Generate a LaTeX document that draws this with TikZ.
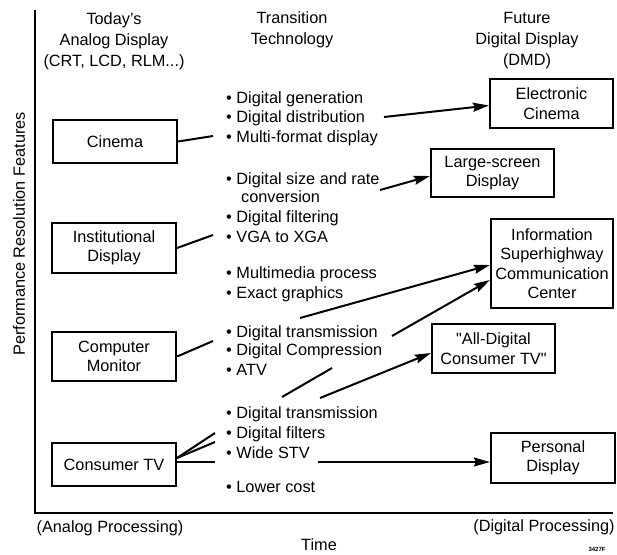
\documentclass[tikz,border=0pt]{standalone}
\usepackage{fontspec}
\setmainfont{Liberation Sans}
\usetikzlibrary{arrows.meta,calc}
\begin{document}
\begin{tikzpicture}[x=1pt,y=-1pt,
  every node/.style={font=\fontsize{16.3}{19.5}\selectfont, inner sep=0pt},
  box/.style={draw, line width=2.2pt, align=center, minimum width=124pt},
  head/.style={align=center, font=\fontsize{16.3}{21}\selectfont},
  item/.style={anchor=base west},
  link/.style={line width=2pt},
  arr/.style={line width=2pt, -{Stealth[length=16pt,width=9pt,inset=2pt]}}]
\useasboundingbox (0,0) rectangle (617,554);

% axes
\coordinate (ytop) at (35,10);
\coordinate (orig) at (35,513);
\coordinate (xend) at (613,513);
\draw[line width=2.5pt] (ytop) -- (orig) -- (xend);

% column headings
\node[head] (h1) at (114,41) {Today's\\Analog Display\\(CRT, LCD, RLM...)};
\node[head] (h2) at (292,30) {Transition\\Technology};
\node[head] (h3) at (527,41) {Future\\Digital Display\\(DMD)};

% today's displays
\node[box, minimum height=43pt] (cin)  at (115,141.5) {Cinema};
\node[box, minimum height=50pt] (inst) at (114,248)   {Institutional\\Display};
\node[box, minimum height=49pt] (comp) at (114,356.5) {Computer\\Monitor};
\node[box, minimum height=43pt] (ctv)  at (114,464.5) {Consumer TV};

% future displays
\node[box, minimum width=123pt, minimum height=49pt] (ecin) at (551.5,103.5) {Electronic\\Cinema};
\node[box, minimum width=123pt, minimum height=48pt] (lsd)  at (492.5,173)   {Large-screen\\Display};
\node[box, minimum width=122pt, minimum height=89pt] (info) at (552,263.5)   {Information\\Superhighway\\Communication\\Center};
\node[box, minimum width=123pt, minimum height=49pt] (adtv) at (493.5,348.5) {\textquotedbl All-Digital\\Consumer TV\textquotedbl};
\node[box, minimum width=124pt, minimum height=50pt] (pers) at (553,458)     {Personal\\Display};

% transition technologies
\node[item] (gen)  at (226,103) {\textbullet\ Digital generation};
\node[item] (dist) at (226,122) {\textbullet\ Digital distribution};
\node[item] (mf)   at (226,142) {\textbullet\ Multi-format display};
\node[item] (size) at (226,184) {\textbullet\ Digital size and rate};
\node[item] (conv) at (241,202) {conversion};
\node[item] (filt) at (226,222) {\textbullet\ Digital filtering};
\node[item] (vga)  at (226,242) {\textbullet\ VGA to XGA};
\node[item] (mm)   at (226,278) {\textbullet\ Multimedia process};
\node[item] (eg)   at (226,298) {\textbullet\ Exact graphics};
\node[item] (dt1)  at (226,337) {\textbullet\ Digital transmission};
\node[item] (dc)   at (226,355) {\textbullet\ Digital Compression};
\node[item] (atv)  at (226,375) {\textbullet\ ATV};
\node[item] (dt2)  at (226,418) {\textbullet\ Digital transmission};
\node[item] (df)   at (226,438) {\textbullet\ Digital filters};
\node[item] (wstv) at (226,458) {\textbullet\ Wide STV};
\node[item] (lc)   at (226,492) {\textbullet\ Lower cost};

% connector end points
\coordinate (cinT)  at (213,136);
\coordinate (instT) at (213,235);
\coordinate (compT) at (213,341);
\coordinate (ctvE)  at (177,458);
\coordinate (ctvA)  at (215,433);
\coordinate (ctvB)  at (215,442);
\coordinate (ctvC)  at (215,462);
\coordinate (a1) at (384,117);
\coordinate (a2) at (380,190);
\coordinate (a3) at (300,318);
\coordinate (a4) at (392,336);
\coordinate (s1) at (282,397);
\coordinate (s2) at (332,368);
\coordinate (a5) at (320,398);
\coordinate (a6) at (318,462);

% connectors
\draw[link] (cin.east) -- (cinT);
\draw[link] (inst.east) -- (instT);
\draw[link] (comp.east) -- (compT);
\draw[link] (ctvE) -- (ctvA);
\draw[link] (ctvE) -- (ctvB);
\draw[link] (ctv.east |- ctvC) -- (ctvC);
\draw[arr] (a1) -- ($(ecin.west)+(0,2)$);
\draw[arr] (a2) -- ($(lsd.west)+(0,3)$);
\draw[arr] (a3) -- ($(info.west)+(0,1.5)$);
\draw[arr] (a4) -- ($(info.west)+(0,16.5)$);
\draw[link] (s1) -- (s2);
\draw[arr] (a5) -- ($(adtv.west)+(0,4.5)$);
\draw[arr] (a6) -- (pers.west |- a6);

% axis labels
\node[rotate=90] (ylab) at (19,234) {Performance Resolution Features};
\node (al) at (110,528) {(Analog Processing)};
\node (dl) at (544,527) {(Digital Processing)};
\node (tl) at (319,545) {Time};
\node[font=\fontsize{6}{7}\selectfont\bfseries] (fig) at (597,549) {3427F};
\end{tikzpicture}
\end{document}
